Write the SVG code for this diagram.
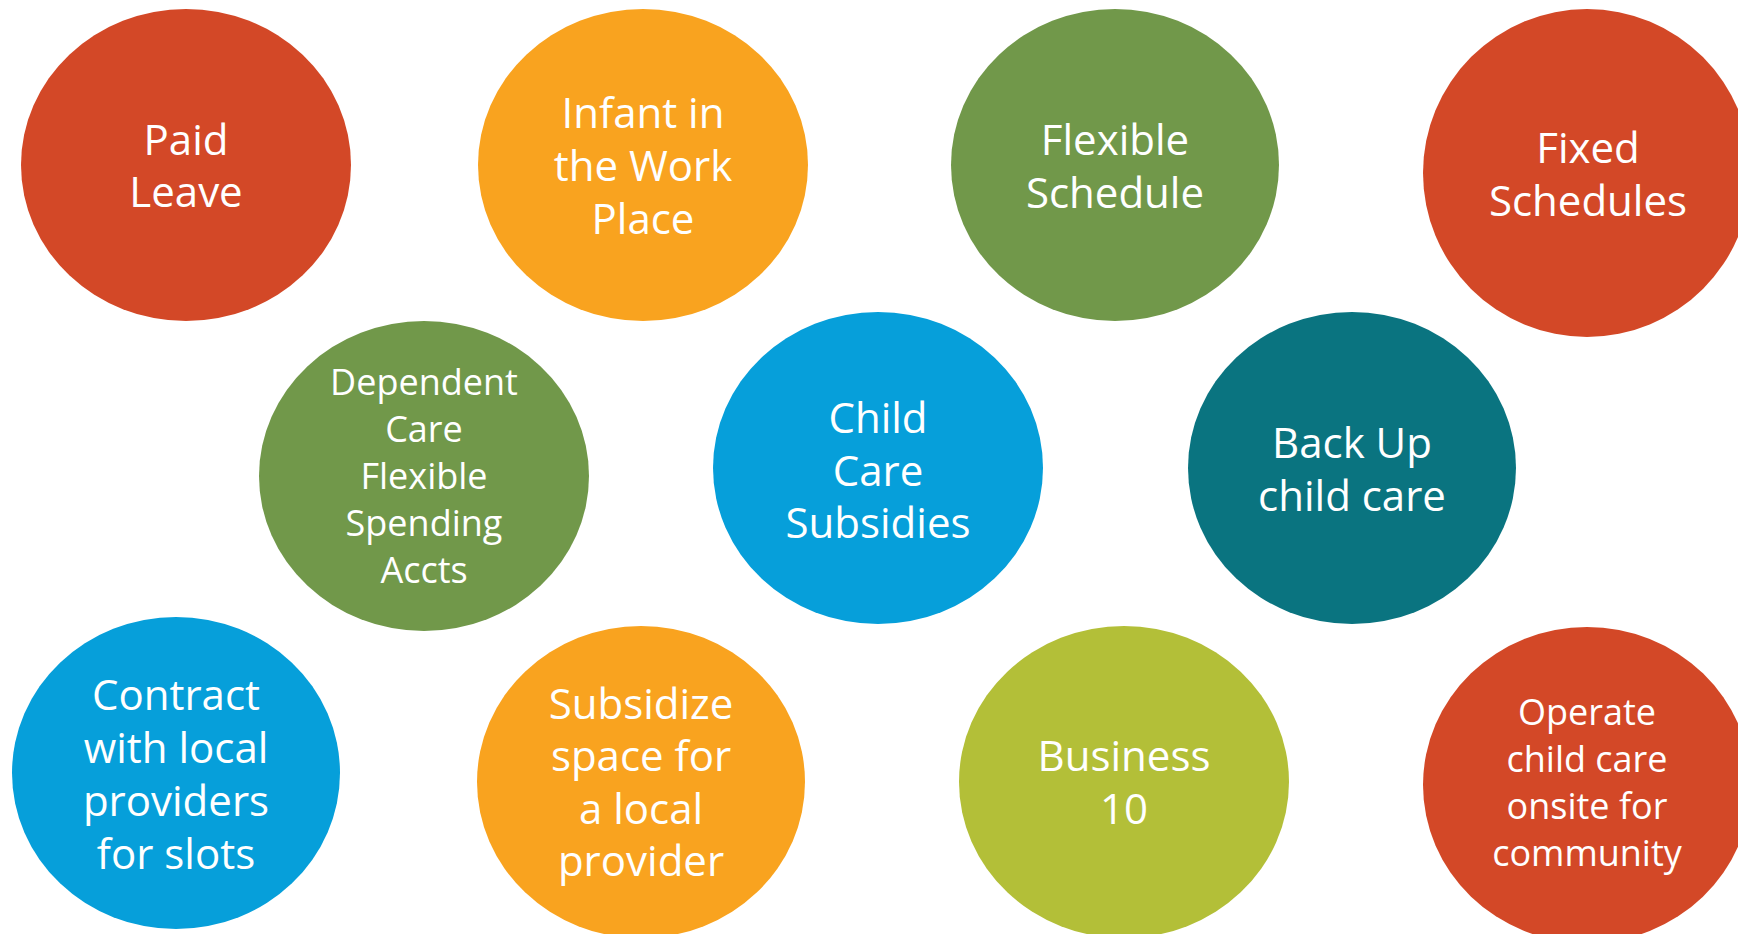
<svg xmlns="http://www.w3.org/2000/svg" width="1738" height="934" viewBox="0 0 1738 934">
  <style>
    .lbl { font-family: "Open Sans", "Noto Sans", "Liberation Sans", sans-serif; fill: #ffffff; text-anchor: middle; }
    .big { font-size: 42px; }
    .small { font-size: 36px; }
    .red { fill: #D34827; }
    .orange { fill: #F9A31F; }
    .green { fill: #71984A; }
    .blue { fill: #069FDA; }
    .teal { fill: #0A7480; }
    .lime { fill: #B3BF38; }
  </style>
  <rect width="1738" height="934" fill="#ffffff"/>
  <g id="connectors"></g>
  <g id="paid-leave">
    <ellipse class="red" cx="186" cy="165" rx="165" ry="156"/>
    <text class="lbl big"><tspan x="186" y="155">Paid</tspan><tspan x="186" y="207">Leave</tspan></text>
  </g>
  <g id="infant">
    <ellipse class="orange" cx="643" cy="165" rx="165" ry="156"/>
    <text class="lbl big"><tspan x="643" y="128">Infant in</tspan><tspan x="643" y="181">the Work</tspan><tspan x="643" y="234">Place</tspan></text>
  </g>
  <g id="flexible-schedule">
    <ellipse class="green" cx="1115" cy="165" rx="164" ry="156"/>
    <text class="lbl big"><tspan x="1115" y="155">Flexible</tspan><tspan x="1115" y="208">Schedule</tspan></text>
  </g>
  <g id="fixed-schedules">
    <ellipse class="red" cx="1587" cy="173" rx="164" ry="164"/>
    <text class="lbl big"><tspan x="1588" y="163">Fixed</tspan><tspan x="1588" y="216">Schedules</tspan></text>
  </g>
  <g id="dependent-care">
    <ellipse class="green" cx="424" cy="476" rx="165" ry="155"/>
    <text class="lbl small"><tspan x="424" y="395">Dependent</tspan><tspan x="424" y="442">Care</tspan><tspan x="424" y="489">Flexible</tspan><tspan x="424" y="536">Spending</tspan><tspan x="424" y="583">Accts</tspan></text>
  </g>
  <g id="child-care-subsidies">
    <ellipse class="blue" cx="878" cy="468" rx="165" ry="156"/>
    <text class="lbl big"><tspan x="878" y="433">Child</tspan><tspan x="878" y="486">Care</tspan><tspan x="878" y="538">Subsidies</tspan></text>
  </g>
  <g id="back-up">
    <ellipse class="teal" cx="1352" cy="468" rx="164" ry="156"/>
    <text class="lbl big"><tspan x="1352" y="458">Back Up</tspan><tspan x="1352" y="511">child care</tspan></text>
  </g>
  <g id="contract">
    <ellipse class="blue" cx="176" cy="773" rx="164" ry="156"/>
    <text class="lbl big"><tspan x="176" y="710">Contract</tspan><tspan x="176" y="763">with local</tspan><tspan x="176" y="816">providers</tspan><tspan x="176" y="869">for slots</tspan></text>
  </g>
  <g id="subsidize">
    <ellipse class="orange" cx="641" cy="782" rx="164" ry="156"/>
    <text class="lbl big"><tspan x="641" y="719">Subsidize</tspan><tspan x="641" y="771">space for</tspan><tspan x="641" y="824">a local</tspan><tspan x="641" y="876">provider</tspan></text>
  </g>
  <g id="business-10">
    <ellipse class="lime" cx="1124" cy="782" rx="165" ry="156"/>
    <text class="lbl big"><tspan x="1124" y="771">Business</tspan><tspan x="1124" y="824">10</tspan></text>
  </g>
  <g id="operate">
    <ellipse class="red" cx="1587" cy="785" rx="164" ry="158"/>
    <text class="lbl small"><tspan x="1587" y="725">Operate</tspan><tspan x="1587" y="772">child care</tspan><tspan x="1587" y="819">onsite for</tspan><tspan x="1587" y="866">community</tspan></text>
  </g>
</svg>
